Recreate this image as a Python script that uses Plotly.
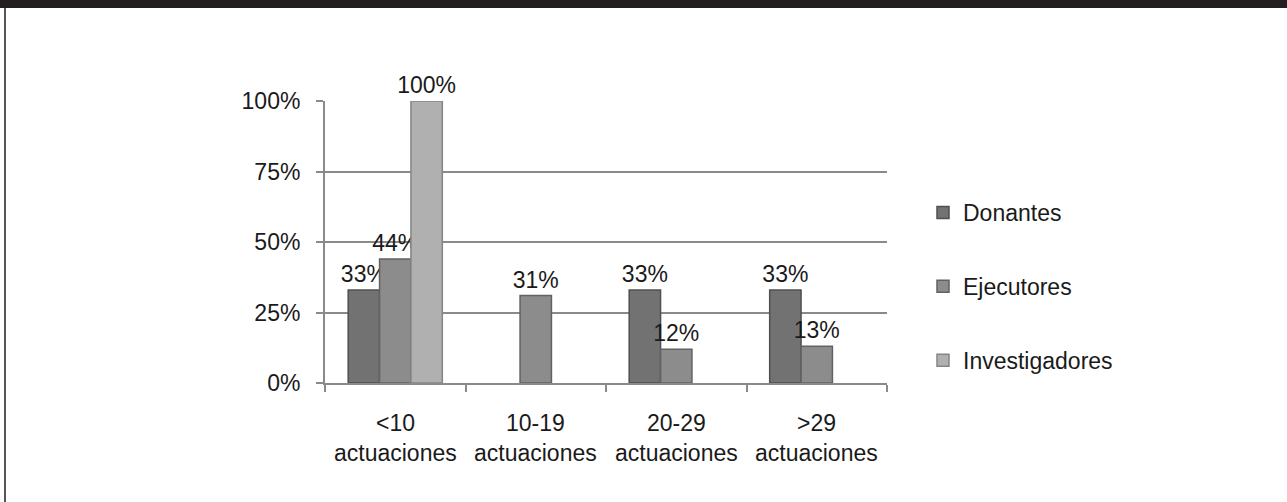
import plotly.graph_objects as go

categories = ["<10", "10-19", "20-29", ">29"]
cat_line2 = ["actuaciones", "actuaciones", "actuaciones", "actuaciones"]
series_names = ["Donantes", "Ejecutores", "Investigadores"]
donantes = [0.33, None, 0.33, 0.33]
ejecutores = [0.44, 0.31, 0.12, 0.13]
investigadores = [1.00, None, None, None]
y_ticks = [0, 0.25, 0.5, 0.75, 1.0]
y_tick_labels = ["0%", "25%", "50%", "75%", "100%"]

values = [donantes, ejecutores, investigadores]
fills = ["#727272", "#8c8c8c", "#b0b0b0"]
edges = ["#505050", "#626262", "#858585"]

FONT = "Liberation Sans, Arial, sans-serif"
FS = 23
W, H = 1287, 502
L, R, T, B = 325, 400, 101, 119
pw, ph = W - L - R, H - T - B

def px(x):
    return (x - L) / pw

def py(y):
    return (H - B - y) / ph

fig = go.Figure()
for name, vals, fc, ec in zip(series_names, values, fills, edges):
    fig.add_trace(go.Bar(
        x=categories, y=vals, name=name,
        marker=dict(color=fc, line=dict(color=ec, width=1.5)),
        text=[("" if v is None else f"{round(v*100)}%") for v in vals],
        textposition="outside",
        constraintext="none",
        textfont=dict(family=FONT, size=FS, color="#1a1a1a"),
        cliponaxis=False,
        legendgroup=name,
    ))

annotations = []
for c, c2 in zip(categories, cat_line2):
    annotations.append(dict(x=c, y=0, xref="x", yref="y", text=c, showarrow=False,
                            yanchor="middle", yshift=-40,
                            font=dict(family=FONT, size=FS, color="#1a1a1a")))
    annotations.append(dict(x=c, y=0, xref="x", yref="y", text=c2, showarrow=False,
                            yanchor="middle", yshift=-70,
                            font=dict(family=FONT, size=FS, color="#1a1a1a")))

fig.update_layout(
    width=W, height=H,
    margin=dict(l=L, r=R, t=T, b=B),
    paper_bgcolor="white", plot_bgcolor="white",
    barmode="group", bargap=0.33, bargroupgap=0,
    showlegend=True,
    legend=dict(x=px(923), y=py(191), xanchor="left", yanchor="top",
                traceorder="grouped", tracegroupgap=41,
                font=dict(family=FONT, size=FS, color="#1a1a1a"),
                itemwidth=30, bgcolor="rgba(0,0,0,0)"),
    font=dict(family=FONT, size=FS, color="#1a1a1a"),
    xaxis=dict(showticklabels=False, showgrid=False, showline=True,
               linecolor="#8a8a8a", linewidth=2, ticks="outside", ticklen=7,
               tickcolor="#8a8a8a", tickwidth=2, tickson="boundaries",
               zeroline=False),
    yaxis=dict(range=[0, 1], tickvals=y_ticks, ticktext=y_tick_labels,
               showgrid=True, gridcolor="#8a8a8a", gridwidth=2,
               showline=True, linecolor="#8a8a8a", linewidth=2,
               ticks="outside", ticklen=7, tickcolor="#8a8a8a", tickwidth=2,
               ticklabelstandoff=11,
               zeroline=False, tickfont=dict(family=FONT, size=FS, color="#1a1a1a")),
    annotations=annotations,
    shapes=[
        dict(type="rect", xref="paper", yref="paper",
             x0=px(0), x1=px(W), y0=py(8), y1=py(0),
             fillcolor="#231f20", line=dict(width=0), layer="above"),
        dict(type="line", xref="paper", yref="paper",
             x0=px(5), x1=px(5), y0=py(H), y1=py(8),
             line=dict(color="#555555", width=2)),
    ],
)

fig.write_html("out.html", config={"displayModeBar": False},
               post_script="document.body.style.margin='0';")
